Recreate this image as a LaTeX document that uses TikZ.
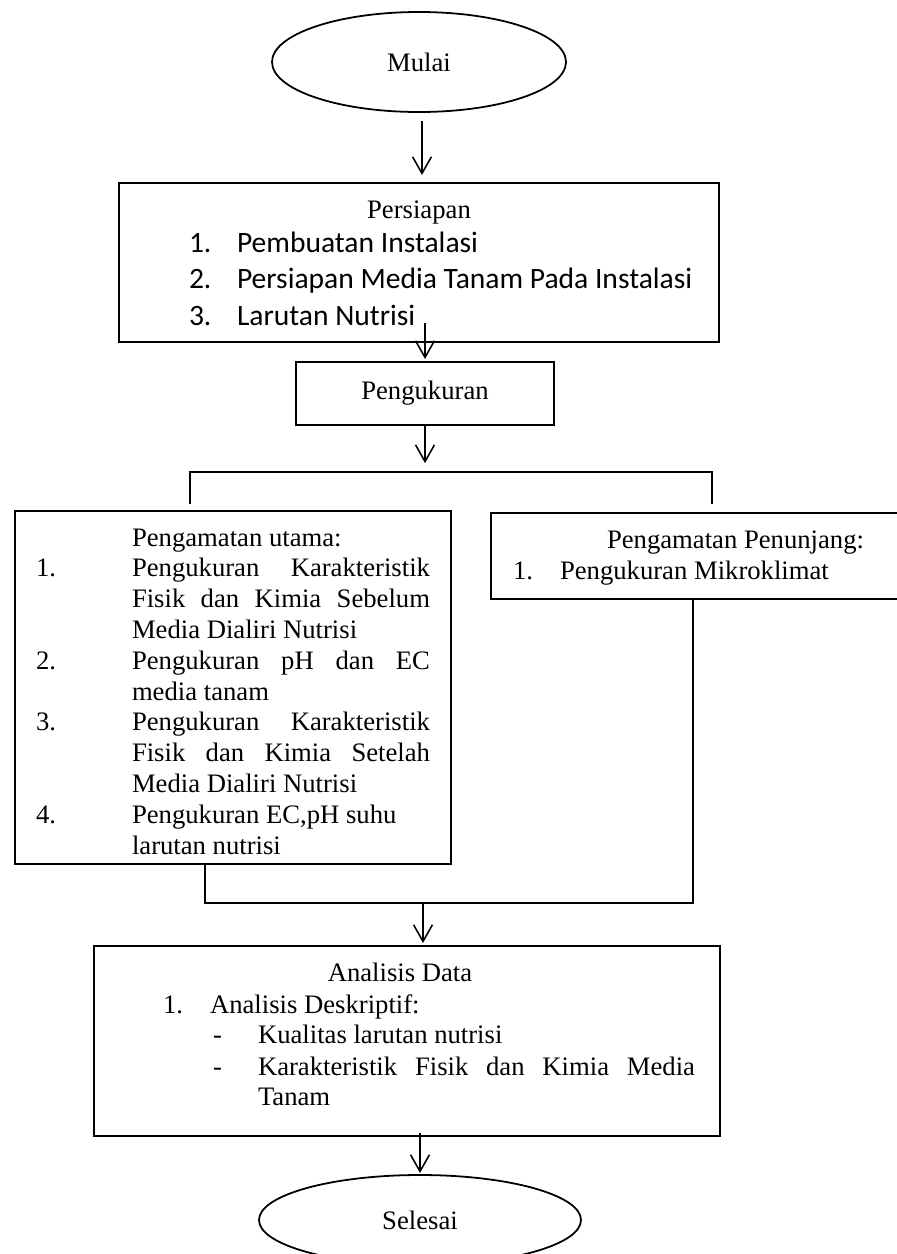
\documentclass[tikz,border=0pt]{standalone}
\usepackage{fontspec}
\setmainfont{Liberation Serif}
\newfontfamily\calfont{Carlito}
\usetikzlibrary{arrows.meta,shapes.geometric}
\newdimen\pxu \pxu=0.45pt
\begin{document}
\begin{tikzpicture}[x=0.45pt,y=-0.45pt,
  every node/.style={inner sep=0pt, outer sep=0pt},
  boxsz/.style 2 args={draw, line width=0.8pt, rectangle, minimum width=#1\pxu, minimum height=#2\pxu, font=\fontsize{12}{13.8}\selectfont},
  ovalsz/.style 2 args={draw, line width=0.8pt, ellipse, minimum width=#1\pxu, minimum height=#2\pxu, font=\fontsize{12}{13.8}\selectfont},
  tx/.style={anchor=base west, font=\fontsize{12}{13.8}\selectfont},
  tc/.style={anchor=base, font=\fontsize{12}{13.8}\selectfont},
  cx/.style={anchor=base west, font=\calfont\fontsize{13.3}{15}\selectfont},
  conn/.style={line width=0.7pt},
  arr/.style={conn, -{Straight Barb[length=7.5pt,width=8.5pt]}}]
\useasboundingbox (0,0) rectangle (897,1254);
\clip (0,0) rectangle (897,1254);
\fill[white] (0,0) rectangle (897,1254);

% shapes
\node[ovalsz={294}{100}] (mulai) at (419,62) {Mulai};
\node[boxsz={600}{159}] (persiapan) at (419,262.5) {};
\node[boxsz={258}{63}] (peng) at (425,393.5) {Pengukuran};
\node[boxsz={436}{353}] (utama) at (233,687.5) {};
\node[boxsz={419}{86}] (penunjang) at (700.5,556) {};
\node[boxsz={626}{190}] (analisis) at (407,1041) {};
\node[ovalsz={322}{90}] (selesai) at (420,1220) {Selesai};

% Persiapan texts
\node[tc] (pT) at (419,218) {Persiapan};
\node[cx] (p1n) at (189,252) {1.};
\node[cx] (p1) at (237,252) {Pembuatan Instalasi};
\node[cx] (p2n) at (189,288) {2.};
\node[cx] (p2) at (237,288) {Persiapan Media Tanam Pada Instalasi};
\node[cx] (p3n) at (189,325) {3.};
\node[cx] (p3) at (237,325) {Larutan Nutrisi};

% Pengamatan utama texts
\node[tx] (uT) at (132,546) {Pengamatan utama:};
\node[tx] (u1n) at (36,576.8) {1.};
\node[tx] (u1a) at (132,576.8) {\hbox to 298\pxu{Pengukuran\hfill Karakteristik}};
\node[tx] (u1b) at (132,607.6) {\hbox to 298\pxu{Fisik\hfill dan\hfill Kimia\hfill Sebelum}};
\node[tx] (u1c) at (132,638.4) {Media Dialiri Nutrisi};
\node[tx] (u2n) at (36,669.2) {2.};
\node[tx] (u2a) at (132,669.2) {\hbox to 298\pxu{Pengukuran\hfill pH\hfill dan\hfill EC}};
\node[tx] (u2b) at (132,700) {media tanam};
\node[tx] (u3n) at (36,730.8) {3.};
\node[tx] (u3a) at (132,730.8) {\hbox to 298\pxu{Pengukuran\hfill Karakteristik}};
\node[tx] (u3b) at (132,761.6) {\hbox to 298\pxu{Fisik\hfill dan\hfill Kimia\hfill Setelah}};
\node[tx] (u3c) at (132,792.4) {Media Dialiri Nutrisi};
\node[tx] (u4n) at (36,823.2) {4.};
\node[tx] (u4a) at (132,823.2) {Pengukuran EC,pH suhu};
\node[tx] (u4b) at (132,854) {larutan nutrisi};

% Pengamatan penunjang texts
\node[tx] (nT) at (607,548) {Pengamatan Penunjang:};
\node[tx] (n1n) at (513,579) {1.};
\node[tx] (n1) at (560,579) {Pengukuran Mikroklimat};

% Analisis texts
\node[tc] (aT) at (400,981) {Analisis Data};
\node[tx] (a1n) at (163,1013) {1.};
\node[tx] (a1) at (210,1013) {Analisis Deskriptif:};
\node[tx] (a2d) at (213,1043) {-};
\node[tx] (a2) at (258,1043) {Kualitas larutan nutrisi};
\node[tx] (a3d) at (213,1075) {-};
\node[tx] (a3) at (258,1075) {\hbox to 437\pxu{Karakteristik\hfill Fisik\hfill dan\hfill Kimia\hfill Media}};
\node[tx] (a4) at (258,1105) {Tanam};

% connectors
\coordinate (brL) at (190,472);
\coordinate (brR) at (712,472);
\coordinate (bl) at (190,504);
\coordinate (br) at (712,504);
\coordinate (mL) at (205,903);
\coordinate (mR) at (693,903);
\coordinate (mC) at (423,903);

\draw[arr, shorten <=4pt, shorten >=3.6pt] ([xshift=1.35pt]mulai.south) -- ([xshift=1.35pt]mulai.south |- persiapan.north);
\draw[arr, shorten <=-8.5pt, shorten >=1.35pt] (peng.north |- persiapan.south) -- (peng.north);
\draw[arr, shorten >=4pt] (peng.south) -- (peng.south |- brL);
\draw[conn] (bl) -- (brL) -- (brR) -- (br);
\draw[conn] (utama.south -| mL) -- (mL) -- (mR) -- (penunjang.south -| mR);
\draw[arr, shorten >=1.35pt] (mC) -- (mC |- analisis.north);
\draw[arr, shorten <=-1.35pt, shorten >=0.9pt] (selesai.north |- analisis.south) -- (selesai.north);
\end{tikzpicture}
\end{document}
